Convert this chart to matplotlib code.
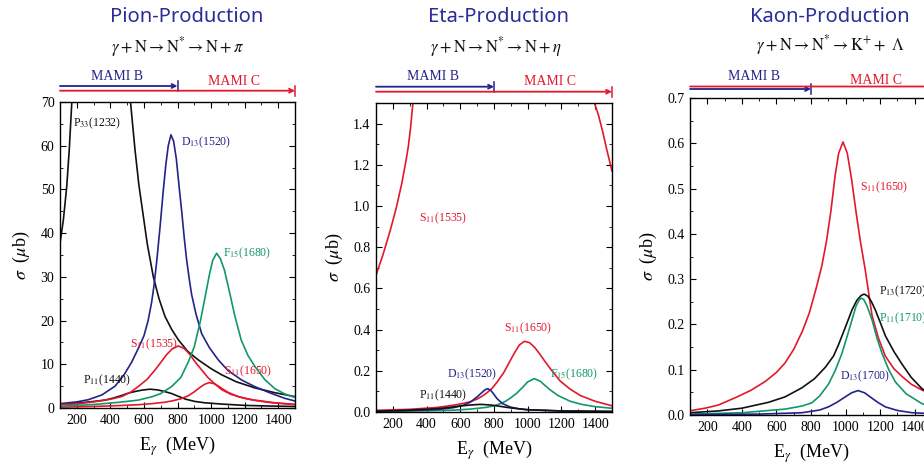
import matplotlib
matplotlib.use("Agg")
import matplotlib.pyplot as plt
from matplotlib.ticker import MultipleLocator

plt.rcParams["font.family"] = ["Liberation Serif", "DejaVu Serif"]
plt.rcParams["mathtext.fontset"] = "stix"

W, H = 924, 466
BLUE, RED, GREEN, INK = "#23238a", "#e3182d", "#12976a", "#111111"
TITLE_C = "#2b2b9a"

# ── Pion production (sigma in mub vs E_gamma in MeV) ────────────────────────
pi_p33_e = [100, 120, 140, 155, 170, 185, 250, 340, 420, 450, 480, 500, 520, 547, 570, 596, 620, 656, 690, 725, 765, 805, 860, 924, 1000, 1063, 1150, 1261, 1380, 1500]
pi_p33_v = [37.7, 43, 50.6, 59, 69.7, 80, 150, 220, 150, 115, 92, 80, 70, 59, 51, 44, 37.5, 30, 25, 21, 18, 15.6, 13, 11, 9, 7.6, 6, 4.6, 3.5, 2.6]
pi_p11_e = [100, 200, 300, 368, 420, 470, 507, 550, 590, 636, 680, 720, 765, 810, 850, 904, 960, 1063, 1200, 1350, 1500]
pi_p11_v = [0.8, 1.1, 1.5, 1.8, 2.3, 2.9, 3.4, 3.8, 4.1, 4.3, 4.15, 3.8, 3.3, 2.6, 2.0, 1.5, 1.2, 0.9, 0.6, 0.45, 0.35]
pi_s1535_e = [100, 200, 300, 400, 467, 520, 566, 620, 666, 700, 735, 770, 805, 840, 875, 904, 940, 983, 1020, 1063, 1120, 1200, 1261, 1380, 1500]
pi_s1535_v = [0.76, 0.94, 1.4, 2.0, 2.6, 3.6, 4.9, 6.6, 8.7, 10.4, 12.2, 13.6, 14.2, 13.6, 12.2, 10.6, 8.9, 6.9, 5.6, 4.2, 3.1, 2.2, 1.8, 1.2, 0.8]
pi_s1650_e = [100, 300, 450, 566, 650, 720, 765, 820, 864, 900, 930, 960, 988, 1015, 1040, 1063, 1100, 1162, 1250, 1361, 1500]
pi_s1650_v = [0.2, 0.35, 0.55, 0.75, 1.0, 1.3, 1.6, 2.1, 2.8, 3.7, 4.6, 5.4, 5.8, 5.6, 5.1, 4.5, 3.6, 2.6, 1.8, 1.2, 0.8]
pi_d13_e = [100, 200, 269, 350, 428, 480, 527, 565, 600, 625, 646, 660, 676, 695, 715, 730, 745, 761, 777, 793, 810, 825, 840, 854, 870, 884, 910, 944, 990, 1043, 1100, 1182, 1260, 1361, 1440, 1500]
pi_d13_v = [1.0, 1.4, 1.9, 3.0, 5.0, 7.5, 10.5, 13.5, 16.5, 20, 24.2, 28, 33.5, 41, 49.6, 55.5, 60, 62.5, 61, 57, 50.5, 45, 39, 34, 29.5, 26, 21.5, 17, 13.8, 11, 8.6, 6.4, 4.9, 3.3, 2.2, 1.6]
pi_f15_e = [100, 300, 450, 566, 650, 700, 765, 820, 864, 900, 937, 965, 990, 1010, 1033, 1055, 1080, 1110, 1142, 1180, 1220, 1261, 1320, 1381, 1440, 1500]
pi_f15_v = [0.4, 0.8, 1.3, 1.8, 2.6, 3.3, 4.9, 7.0, 10.5, 14, 20, 25.5, 30.5, 33.8, 35.4, 34.2, 31.5, 26.5, 21, 15.5, 12, 9.5, 6.5, 4.4, 3.2, 2.4]

# ── Eta production ──────────────────────────────────────────────────────────
eta_s1535_e = [100, 140, 184, 220, 253, 280, 292, 305, 319, 335, 400, 500, 600, 700, 790, 900, 1000, 1100, 1200, 1300, 1380, 1396, 1420, 1445, 1470, 1500]
eta_s1535_v = [0.664, 0.76, 0.88, 0.99, 1.11, 1.23, 1.29, 1.38, 1.5, 1.65, 2.5, 5, 9, 13.5, 15, 12, 8, 5, 3.3, 2.1, 1.56, 1.5, 1.44, 1.36, 1.27, 1.17]
eta_s1650_e = [100, 300, 462, 560, 620, 659, 700, 730, 758, 790, 820, 857, 890, 920, 950, 980, 1010, 1040, 1070, 1100, 1140, 1193, 1250, 1312, 1400, 1500]
eta_s1650_v = [0.008, 0.013, 0.022, 0.033, 0.042, 0.050, 0.063, 0.077, 0.093, 0.116, 0.147, 0.19, 0.24, 0.285, 0.325, 0.343, 0.337, 0.315, 0.283, 0.248, 0.204, 0.15, 0.112, 0.08, 0.052, 0.03]
eta_f15_e = [100, 400, 560, 659, 750, 800, 837, 870, 900, 936, 970, 1000, 1039, 1075, 1105, 1134, 1180, 1252, 1320, 1400, 1500]
eta_f15_v = [0.003, 0.006, 0.009, 0.014, 0.022, 0.03, 0.04, 0.053, 0.069, 0.092, 0.12, 0.146, 0.162, 0.149, 0.127, 0.107, 0.08, 0.052, 0.037, 0.026, 0.018]
eta_d13_e = [100, 300, 462, 560, 620, 660, 699, 725, 745, 762, 780, 800, 818, 850, 897, 950, 1000, 1200, 1500]
eta_d13_v = [0.004, 0.007, 0.012, 0.021, 0.033, 0.048, 0.073, 0.092, 0.107, 0.113, 0.106, 0.085, 0.065, 0.041, 0.024, 0.015, 0.011, 0.005, 0.002]
eta_p11_e = [100, 264, 400, 500, 600, 660, 720, 780, 840, 897, 1000, 1200, 1500]
eta_p11_v = [0.004, 0.008, 0.013, 0.019, 0.029, 0.034, 0.037, 0.034, 0.027, 0.02, 0.011, 0.005, 0.003]

# ── Kaon production ─────────────────────────────────────────────────────────
ka_s1650_e = [100, 187, 264, 361, 450, 535, 600, 650, 700, 750, 790, 830, 863, 890, 915, 940, 960, 985, 1010, 1035, 1060, 1085, 1114, 1153, 1190, 1230, 1280, 1327, 1380, 1442, 1500]
ka_s1650_v = [0.0095, 0.015, 0.022, 0.038, 0.054, 0.074, 0.094, 0.115, 0.145, 0.185, 0.225, 0.28, 0.33, 0.385, 0.45, 0.53, 0.578, 0.603, 0.578, 0.52, 0.45, 0.385, 0.32, 0.22, 0.17, 0.13, 0.102, 0.085, 0.068, 0.055, 0.047]
ka_p13_e = [100, 264, 400, 554, 650, 747, 820, 882, 930, 959, 1000, 1037, 1065, 1090, 1108, 1130, 1150, 1172, 1200, 1230, 1280, 1327, 1380, 1442, 1500]
ka_p13_v = [0.005, 0.009, 0.015, 0.028, 0.04, 0.06, 0.08, 0.105, 0.13, 0.155, 0.195, 0.232, 0.253, 0.264, 0.267, 0.262, 0.25, 0.232, 0.205, 0.175, 0.14, 0.112, 0.083, 0.058, 0.045]
ka_p11_e = [100, 400, 650, 750, 805, 850, 901, 940, 979, 1010, 1037, 1060, 1080, 1091, 1105, 1125, 1153, 1180, 1211, 1250, 1288, 1350, 1442, 1500]
ka_p11_v = [0.002, 0.005, 0.013, 0.02, 0.027, 0.042, 0.068, 0.098, 0.136, 0.175, 0.21, 0.24, 0.255, 0.258, 0.255, 0.24, 0.21, 0.172, 0.136, 0.1, 0.073, 0.047, 0.025, 0.018]
ka_d13_e = [100, 500, 747, 850, 901, 950, 998, 1035, 1072, 1110, 1153, 1190, 1230, 1300, 1385, 1500]
ka_d13_v = [0.001, 0.002, 0.005, 0.011, 0.018, 0.028, 0.04, 0.049, 0.054, 0.049, 0.037, 0.027, 0.018, 0.01, 0.005, 0.003]


def axes_px(left, top, right, bottom):
    return [left / W, 1 - bottom / H, (right - left) / W, (bottom - top) / H]


def ftext(x, y, s, **kw):
    fig.text(x / W, 1 - y / H, s, ha="center", va="center", **kw)


def style(ax, ymax, ymaj, ymin):
    ax.set_xlim(100, 1500)
    ax.set_ylim(0, ymax)
    ax.xaxis.set_major_locator(MultipleLocator(200))
    ax.xaxis.set_minor_locator(MultipleLocator(100))
    ax.yaxis.set_major_locator(MultipleLocator(ymaj))
    ax.yaxis.set_minor_locator(MultipleLocator(ymin))
    ax.tick_params(direction="in", top=True, right=True, which="both", labelsize=10, pad=4)
    ax.tick_params(which="major", length=4.5)
    ax.tick_params(which="minor", length=2.5)
    for s in ax.spines.values():
        s.set_linewidth(1.0)
    ax.set_xlabel(r"E$_\gamma$  (MeV)", fontsize=13, labelpad=6)
    ax.set_ylabel(r"$\sigma$  ($\mu$b)", fontsize=13, labelpad=6)


def mami(ax, top, bottom, y_b, y_c, yl_b, yl_c, xb, xc):
    # beam-energy ranges drawn above the frame, x in MeV, y in figure pixels
    tr = ax.get_xaxis_transform()
    fr = lambda y: (bottom - y) / (bottom - top)
    for e_end, y, col in [(800, y_b, BLUE), (1500, y_c, RED)]:
        ax.annotate("", xy=(e_end, fr(y)), xytext=(100, fr(y)), xycoords=tr, textcoords=tr,
                    arrowprops=dict(arrowstyle="->", color=col, lw=1.3, shrinkA=0, shrinkB=0,
                                    mutation_scale=7), annotation_clip=False)
        ax.plot([e_end, e_end], [fr(y - 5), fr(y + 5)], color=col, lw=1.1,
                transform=tr, clip_on=False)
    ftext(xb, yl_b, "MAMI B", color=BLUE, fontsize=10)
    ftext(xc, yl_c, "MAMI C", color=RED, fontsize=10)


fig = plt.figure(figsize=(W / 100, H / 100), dpi=100)
fig.patch.set_facecolor("white")
lw = 1.2
lab = dict(fontsize=8.5, va="center", ha="left")

# ── Pion panel ──
ax1 = fig.add_axes(axes_px(60, 102, 295, 408))
ax1.plot(pi_p33_e, pi_p33_v, color=INK, lw=lw)
ax1.plot(pi_p11_e, pi_p11_v, color=INK, lw=lw)
ax1.plot(pi_d13_e, pi_d13_v, color=BLUE, lw=lw)
ax1.plot(pi_s1535_e, pi_s1535_v, color=RED, lw=lw)
ax1.plot(pi_s1650_e, pi_s1650_v, color=RED, lw=lw)
ax1.plot(pi_f15_e, pi_f15_v, color=GREEN, lw=lw)
style(ax1, 70, 10, 5)
ax1.text(177, 65.2, r"P$_{33}$(1232)", color=INK, **lab)
ax1.text(821, 60.7, r"D$_{13}$(1520)", color=BLUE, **lab)
ax1.text(1071, 35.5, r"F$_{15}$(1680)", color=GREEN, **lab)
ax1.text(517, 14.6, r"S$_{11}$(1535)", color=RED, **lab)
ax1.text(1077, 8.3, r"S$_{11}$(1650)", color=RED, **lab)
ax1.text(237, 6.4, r"P$_{11}$(1440)", color=INK, **lab)
mami(ax1, 102, 408, 86, 90.7, 76.7, 81.7, 117, 234)

# ── Eta panel ──
ax2 = fig.add_axes(axes_px(376, 103, 612, 412))
ax2.plot(eta_s1535_e, eta_s1535_v, color=RED, lw=lw)
ax2.plot(eta_s1650_e, eta_s1650_v, color=RED, lw=lw)
ax2.plot(eta_f15_e, eta_f15_v, color=GREEN, lw=lw)
ax2.plot(eta_d13_e, eta_d13_v, color=BLUE, lw=lw)
ax2.plot(eta_p11_e, eta_p11_v, color=INK, lw=lw)
style(ax2, 1.5, 0.2, 0.1)
ax2.yaxis.set_major_formatter(lambda v, p: f"{v:.1f}")
ax2.text(353, 0.942, r"S$_{11}$(1535)", color=RED, **lab)
ax2.text(857, 0.405, r"S$_{11}$(1650)", color=RED, **lab)
ax2.text(521, 0.183, r"D$_{13}$(1520)", color=BLUE, **lab)
ax2.text(1134, 0.183, r"F$_{15}$(1680)", color=GREEN, **lab)
ax2.text(353, 0.081, r"P$_{11}$(1440)", color=INK, **lab)
mami(ax2, 103, 412, 86.7, 91.7, 77, 81.7, 433, 550)

# ── Kaon panel (its right part is cut off by the figure edge) ──
ax3 = fig.add_axes(axes_px(690, 98, 932, 415))
ax3.plot(ka_s1650_e, ka_s1650_v, color=RED, lw=lw)
ax3.plot(ka_p13_e, ka_p13_v, color=INK, lw=lw)
ax3.plot(ka_p11_e, ka_p11_v, color=GREEN, lw=lw)
ax3.plot(ka_d13_e, ka_d13_v, color=BLUE, lw=lw)
style(ax3, 0.7, 0.1, 0.05)
ax3.yaxis.set_major_formatter(lambda v, p: f"{v:.1f}")
ax3.text(1081, 0.502, r"S$_{11}$(1650)", color=RED, **lab)
ax3.text(1191, 0.274, r"P$_{13}$(1720)", color=INK, **lab)
ax3.text(1191, 0.213, r"P$_{11}$(1710)", color=GREEN, **lab)
ax3.text(969, 0.085, r"D$_{13}$(1700)", color=BLUE, **lab)
mami(ax3, 98, 415, 89, 86.5, 76.7, 81, 754, 876)

# ── titles and reactions ──
tkw = dict(color=TITLE_C, fontsize=14.5, family=["Noto Sans", "DejaVu Sans"])
ftext(187, 17, "Pion-Production", **tkw)
ftext(498, 17, "Eta-Production", **tkw)
ftext(830, 17, "Kaon-Production", **tkw)
ekw = dict(color=INK, fontsize=12)
ftext(178, 47, r"$\gamma + \mathrm{N} \rightarrow \mathrm{N}^{*} \rightarrow \mathrm{N} + \pi$", **ekw)
ftext(496, 47, r"$\gamma + \mathrm{N} \rightarrow \mathrm{N}^{*} \rightarrow \mathrm{N} + \eta$", **ekw)
ftext(830, 45, r"$\gamma + \mathrm{N} \rightarrow \mathrm{N}^{*} \rightarrow \mathrm{K}^{+} +\ \Lambda$", **ekw)

fig.savefig("out.png", dpi=100, facecolor="white")
